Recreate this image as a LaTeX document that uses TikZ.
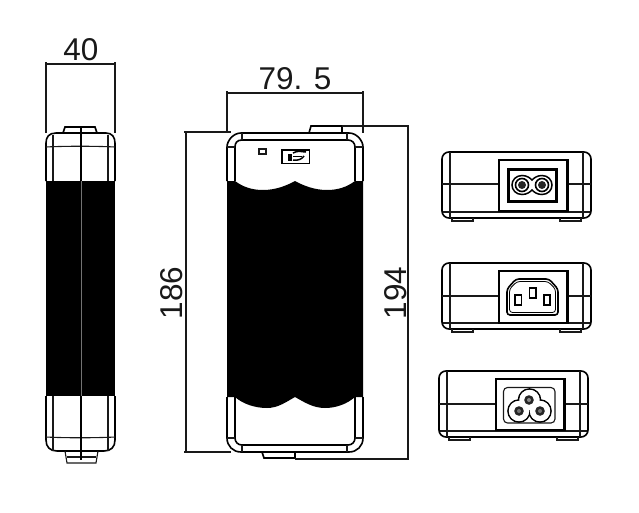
\documentclass[tikz,border=0pt]{standalone}
\usepackage{fontspec}
\setmainfont{Liberation Sans}
\tikzset{
  thin line/.style={line width=1.1pt,draw=black!90},
  body line/.style={line width=1.6pt,draw=black},
  heavy line/.style={line width=2.6pt,draw=black},
  dim text/.style={font=\fontsize{31.5}{31.5}\selectfont,inner sep=0pt,text=black!90},
  solid black/.style={fill=black,draw=none}
}
\newcommand{\plugview}[5]{%
  \begin{scope}[shift={(#1,#2)}]
    \draw[body line,rounded corners=7pt] (0,0) rectangle (149,66);
    \draw[thin line] (8,0) -- (8,66);
    \draw[thin line] (141,0) -- (141,66);
    \draw[thin line] (0,#3) -- (149,#3);
    \draw[thin line] (1,60) -- (148,60);
    \draw[thin line] (10,66) -- (10,69) -- (31,69) -- (31,66);
    \draw[thin line] (118,66) -- (118,69) -- (139,69) -- (139,66);
    \draw[heavy line,fill=white] (57,#4) rectangle (125.5,#5);
  \end{scope}}
\begin{document}
\begin{tikzpicture}[x=1pt,y=-1pt]
\useasboundingbox (0,0) rectangle (639,512);
\fill[white] (0,0) rectangle (639,512);

% ---- side view
\draw[body line] (46,181) -- (46,143) .. controls (46,137) and (49,133) .. (56,133) -- (106,133) .. controls (112,133) and (115,137) .. (115,143) -- (115,181);
\draw[body line] (46,396) -- (46,440) .. controls (46,447) and (50,451) .. (57,451) -- (104,451) .. controls (111,451) and (115,447) .. (115,440) -- (115,396);
\draw[body line] (63,133) -- (65,127) -- (95,127) -- (97,133);
\draw[thin line] (65,451) -- (67,463) -- (96,463) -- (98,451);
\draw[thin line] (67,457) -- (96,457);
\draw[thin line] (46,147) .. controls (65,146) and (95,146) .. (115,147);
\draw[thin line] (46,437) .. controls (65,438) and (95,438) .. (115,437);
\draw[thin line] (53,135) -- (53,181);
\draw[thin line] (108,135) -- (108,181);
\draw[thin line] (53,396) -- (53,451);
\draw[thin line] (108,396) -- (108,451);
\fill[solid black] (46,181) rectangle (115,396);
\draw[heavy line] (81,126) -- (81,181);
\draw[heavy line] (81,396) -- (81,460);
\draw[line width=0.6pt,draw=black!55] (81,181) -- (81,396);
% dimension 40
\coordinate (a1) at (46,62);
\coordinate (a2) at (115,62);
\draw[thin line] (a1) -- (46,133);
\draw[thin line] (a2) -- (115,133);
\draw[thin line] (46,64) -- (115,64);
\node[dim text] (w40) at (81,50) {40};

% ---- front view
\draw[body line] (227,181) -- (227,147) .. controls (227,141) and (233,133) .. (241,133) -- (349,133) .. controls (357,133) and (363,141) .. (363,147) -- (363,181);
\draw[body line] (227,397) -- (227,438) .. controls (227,446) and (233,452) .. (241,452) -- (349,452) .. controls (357,452) and (363,446) .. (363,438) -- (363,397);
\draw[body line] (235,181) -- (235,147) .. controls (235,143) and (237,140) .. (242,140) -- (348,140) .. controls (352,140) and (355,143) .. (355,147) -- (355,181);
\draw[body line] (235,397) -- (235,438) .. controls (235,442) and (238,445) .. (242,445) -- (348,445) .. controls (352,445) and (355,442) .. (355,438) -- (355,397);
\draw[thin line] (227,147) -- (235,147);
\draw[thin line] (355,147) -- (363,147);
\draw[thin line] (227,438) -- (235,438);
\draw[thin line] (355,438) -- (363,438);
\draw[thin line] (242,133) -- (242,140);
\draw[thin line] (347,133) -- (347,140);
\draw[thin line] (242,445) -- (242,452);
\draw[thin line] (347,445) -- (347,452);
\draw[body line] (309,133) -- (311,126) -- (342,126) -- (342,133);
\draw[body line] (262,452) -- (264,458) -- (295,458) -- (295,452);
\fill[solid black] (227,181) -- (235,181) .. controls (243,187) and (252,190) .. (263,190) .. controls (275,190) and (286,186) .. (295,181) .. controls (304,186) and (315,190) .. (327,190) .. controls (338,190) and (347,187) .. (355,181) -- (363,181) -- (363,397) -- (355,397) .. controls (347,404) and (336,408) .. (325,408) .. controls (313,408) and (304,402) .. (295,397) .. controls (286,402) and (278,408) .. (267,408) .. controls (255,408) and (243,404) .. (235,397) -- (227,397) -- cycle;
% indicator and switch
\draw[thin line] (259,149) rectangle (266,154);
\draw[line width=1.7pt] (282,150) rectangle (309.5,163.5);
\fill[black] (288,153.5) rectangle (292,160.5);
\draw[line width=1.5pt] (293,153) .. controls (298,150) and (302,152) .. (306,152);
\draw[line width=1.5pt] (293,160) .. controls (298,161) and (302,159) .. (304,156);
\draw[line width=1.2pt] (293,156.5) -- (302,156.5);
% dimension 79.5
\coordinate (b1) at (227,91);
\coordinate (b2) at (363,91);
\draw[thin line] (b1) -- (227,133);
\draw[thin line] (b2) -- (363,133);
\draw[thin line] (227,93) -- (363,93);
\node[dim text] (w795) at (295,79) {79. 5};
% dimension 186
\coordinate (c1) at (184,132);
\coordinate (c2) at (184,452);
\draw[thin line] (c1) -- (231,132);
\draw[thin line] (c2) -- (231,452);
\draw[thin line] (186,132) -- (186,452);
\node[dim text,rotate=90] (h186) at (172,293) {186};
% dimension 194
\coordinate (d1) at (409,126);
\coordinate (d2) at (409,459);
\draw[thin line] (342,126) -- (d1);
\draw[thin line] (295,459) -- (d2);
\draw[thin line] (408,126) -- (408,459);
\node[dim text,rotate=90] (h194) at (396,293) {194};

% ---- end view 1
\plugview{442}{152}{32}{8}{59}
\draw[heavy line] (508.5,169.5) rectangle (556.5,201.5);
\draw[line width=1.5pt] (522,175.5) .. controls (527,175.5) and (530,178) .. (532,180) .. controls (534,178) and (537,175.5) .. (542,175.5) .. controls (548,175.5) and (552,180) .. (552,185) .. controls (552,190) and (548,194.5) .. (542,194.5) .. controls (537,194.5) and (534,192) .. (532,190) .. controls (530,192) and (527,194.5) .. (522,194.5) .. controls (516,194.5) and (512,190) .. (512,185) .. controls (512,180) and (516,175.5) .. (522,175.5) -- cycle;
\draw[line width=1.6pt] (522,185) circle[radius=6.5];
\draw[line width=1.6pt] (542,185) circle[radius=6.5];
\fill[black!85] (522,185) circle[radius=4];
\fill[black!85] (542,185) circle[radius=4];

% ---- end view 2
\plugview{442}{263}{33}{8}{60}
\draw[line width=1.6pt,rounded corners=3pt] (507,289) -- (516,279) -- (549,279) -- (558,289) -- (558,315) -- (507,315) -- cycle;
\draw[line width=0.8pt,rounded corners=3pt] (509.5,289) -- (517,281.5) -- (548,281.5) -- (555.5,289) -- (555.5,312.5) -- (509.5,312.5) -- cycle;
\draw[line width=1.9pt] (515,295) rectangle (521.5,305);
\draw[line width=1.9pt] (529.5,288) rectangle (536,298);
\draw[line width=1.9pt] (544,295) rectangle (550,305);

% ---- end view 3
\plugview{439}{371}{33}{8}{59}
\draw[thin line,rounded corners=4pt] (503.5,387.5) rectangle (555,423);
\draw[body line] (529.5,400) circle[radius=11];
\draw[body line] (519,411) circle[radius=11];
\draw[body line] (540,411) circle[radius=11];
\fill[white] (529.5,400) circle[radius=10.2];
\fill[white] (519,411) circle[radius=10.2];
\fill[white] (540,411) circle[radius=10.2];
\fill[black!85] (529,400) circle[radius=4.8];
\fill[black!85] (519,411) circle[radius=4.8];
\fill[black!85] (540,411) circle[radius=4.8];
\fill[black!45] (529,400) circle[radius=2];
\fill[black!55] (519,411) circle[radius=2];
\fill[black!55] (540,411) circle[radius=2];
\end{tikzpicture}
\end{document}
